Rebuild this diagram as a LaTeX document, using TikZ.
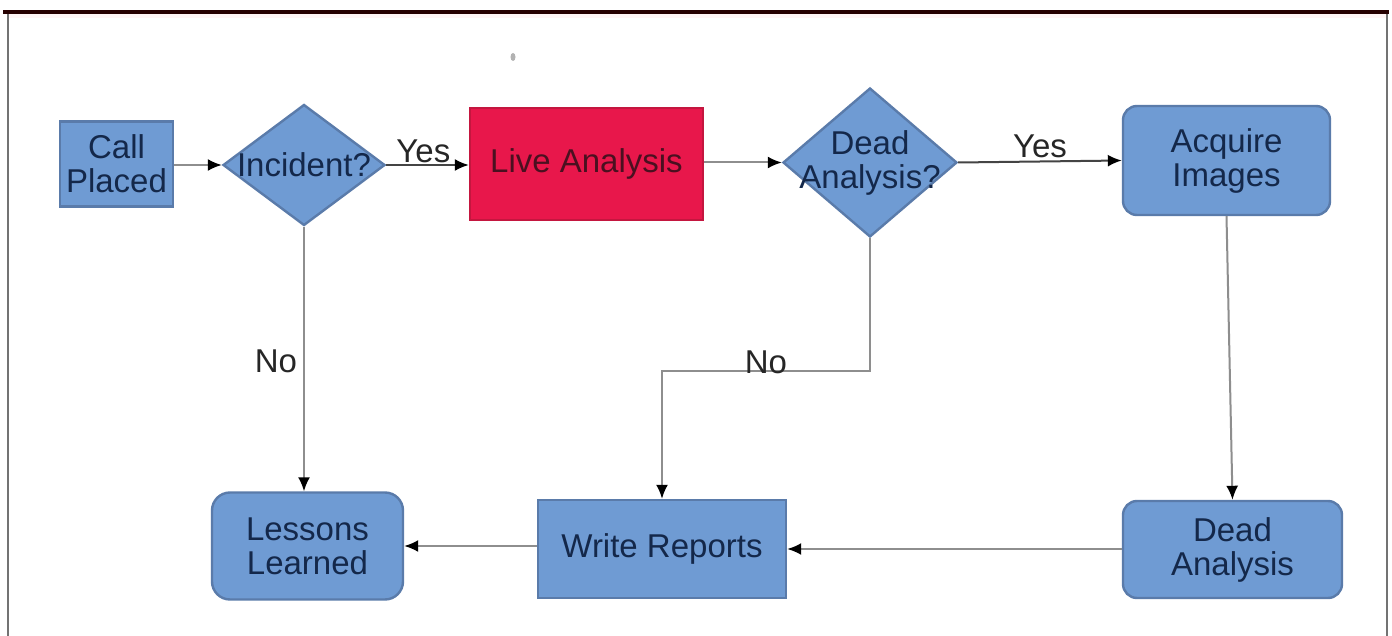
\documentclass[tikz,border=0pt]{standalone}
\usepackage{fontspec}
\setmainfont{Liberation Sans}
\usetikzlibrary{shapes.geometric,arrows.meta}
\definecolor{boxblue}{HTML}{6F9BD3}
\definecolor{boxedge}{HTML}{5A7BAA}
\definecolor{boxtext}{HTML}{14284A}
\definecolor{livered}{HTML}{E8174B}
\definecolor{liveedge}{HTML}{C4163F}
\definecolor{livetext}{HTML}{4A1020}
\definecolor{conn}{HTML}{8E8E8E}
\definecolor{conndark}{HTML}{444444}
\begin{document}
\begin{tikzpicture}[x=0.5pt,y=-0.5pt,
  font=\fontsize{16.5}{17}\selectfont,
  blk/.style={draw=boxedge, line width=1.2pt, fill=boxblue, text=boxtext,
    align=center, inner sep=0pt},
  sqbox/.style={blk, rectangle},
  rbox/.style={blk, rectangle, rounded corners=#1},
  dia/.style={blk, diamond},
  redbox/.style={draw=liveedge, line width=1.2pt, fill=livered, text=livetext,
    align=center, inner sep=0pt, rectangle},
  conn/.style={draw=conn, line width=1pt,
    -{Latex[length=7pt,width=6pt,color=black]}},
  conndk/.style={conn, draw=conndark},
  lbl/.style={text=black!85, inner sep=1pt}
]
\useasboundingbox (0,0) rectangle (1392,636);
\fill[white] (0,0) rectangle (1392,636);
% frame
\draw[black!55, line width=1pt] (8,12) -- (8,636);
\draw[black!55, line width=1pt] (1387,12) -- (1387,636);
\fill[red!4] (9,14) rectangle (1386,18);
\draw[black!85!red, line width=1.6pt] (3,12) -- (1389,12);
\fill[black!30] (513,57) ellipse [x radius=2.5, y radius=4];

% nodes
\node[sqbox, minimum width=56.5pt, minimum height=42.5pt] (call) at (116.5,164) {Call\\Placed};
\node[dia, minimum width=81pt, minimum height=60.5pt,
  label={[text=boxtext]center:Incident?}] (inc) at (304,165) {};
\node[redbox, minimum width=116.5pt, minimum height=56pt] (live) at (586.5,164) {Live Analysis};
\node[dia, minimum width=87pt, minimum height=74.5pt,
  label={[text=boxtext, align=center]center:Dead\\Analysis?}] (dq) at (870,162.5) {};
\node[rbox=7pt, minimum width=103.5pt, minimum height=54.5pt] (acq) at (1226.5,160.5) {Acquire\\Images};
\node[rbox=9pt, minimum width=95.5pt, minimum height=53.5pt] (les) at (307.5,546) {Lessons\\Learned};
\node[sqbox, minimum width=124pt, minimum height=49pt] (wr) at (662,549) {Write Reports};
\node[rbox=7pt, minimum width=109.5pt, minimum height=48.5pt] (da) at (1232.5,549.5) {Dead\\Analysis};

% connectors
\draw[conn] (call.east |- inc.west) -- (inc.west);
\draw[conndk] (inc.east) -- node[lbl, pos=0.45, anchor=base, yshift=1pt] {Yes} (inc.east -| live.west);
\draw[conn] (live.east |- dq.west) -- (dq.west);
\draw[conndk] (dq.east) -- node[lbl, pos=0.5, anchor=base, yshift=2pt] {Yes} (acq.west);
\draw[conn] (inc.south) -- node[lbl, left=2pt, pos=0.51] {No} (inc.south |- les.north);
\draw[conn] (dq.south) -- ++(0,133) -| node[lbl, pos=0.25, anchor=base, yshift=-1pt] {No} (wr.north);
\draw[conn] (acq.south) -- (da.north);
\draw[conn] (da.west |- wr.east) -- (wr.east);
\draw[conn] (wr.west |- les.east) -- (les.east);
\end{tikzpicture}
\end{document}
